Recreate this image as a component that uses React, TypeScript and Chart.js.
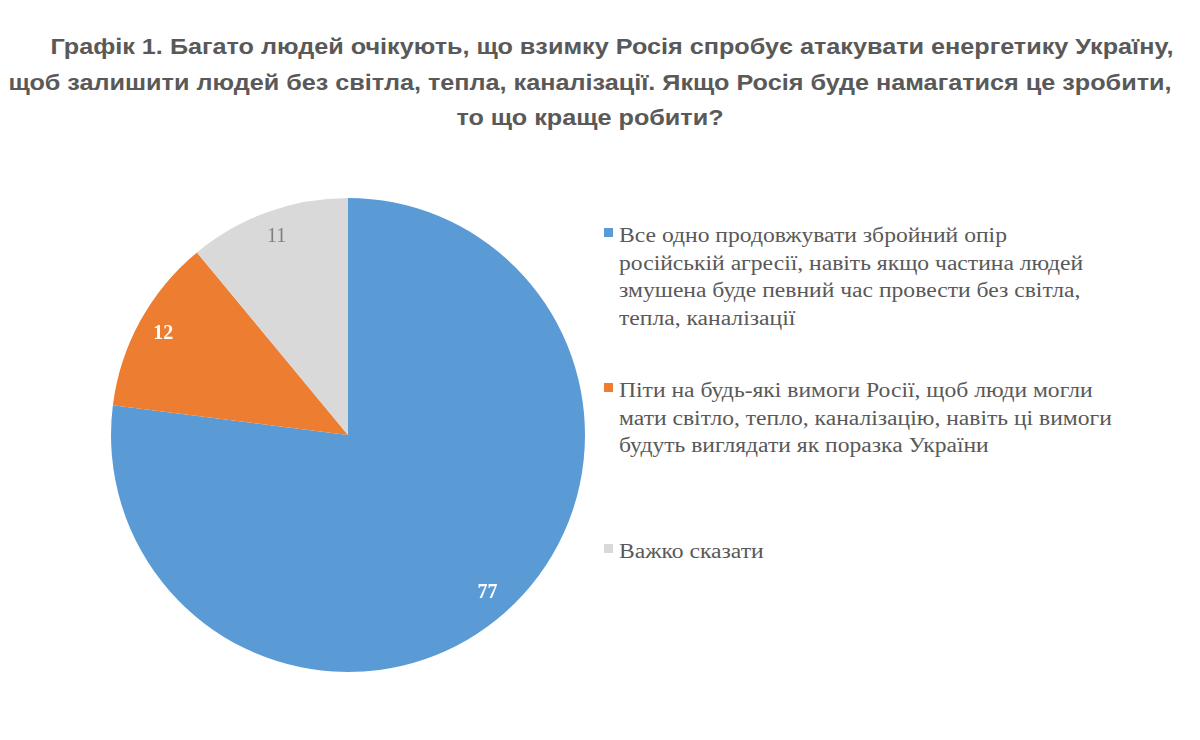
import React, { useEffect, useRef } from "react";
import { Chart, registerables } from "chart.js";

Chart.register(...registerables);

const titleLines = [
  "Графік 1. Багато людей очікують, що взимку Росія спробує атакувати енергетику Україну,",
  "щоб залишити людей без світла, тепла, каналізації. Якщо Росія буде намагатися це зробити,",
  "то що краще робити?",
];
const titleCenters = [612, 590, 590];
const categories = [
  "Все одно продовжувати збройний опір російській агресії, навіть якщо частина людей змушена буде певний час провести без світла, тепла, каналізації",
  "Піти на будь-які вимоги Росії, щоб люди могли мати світло, тепло, каналізацію, навіть ці вимоги будуть виглядати як поразка України",
  "Важко сказати",
];
const legendLines = [
  [
    "Все одно продовжувати збройний опір",
    "російській агресії, навіть якщо частина людей",
    "змушена буде певний час провести без світла,",
    "тепла, каналізації",
  ],
  [
    "Піти на будь-які вимоги Росії, щоб люди могли",
    "мати світло, тепло, каналізацію, навіть ці вимоги",
    "будуть виглядати як поразка України",
  ],
  ["Важко сказати"],
];
const values = [77, 12, 11];
const colors = ["#5B9BD5", "#ED7D31", "#D9D9D9"];
const labelColors = ["#FFFFFF", "#FFFFFF", "#7F7F7F"];
const labelBold = [true, true, false];
const legendTops = [222, 377, 538];

const labelPlugin = {
  id: "sliceLabels",
  afterDatasetsDraw(chart: any) {
    const ctx = chart.ctx;
    const meta = chart.getDatasetMeta(0);
    meta.data.forEach((arc: any, i: number) => {
      const p = arc.getProps(["x", "y", "startAngle", "endAngle", "outerRadius"], true);
      const mid = (p.startAngle + p.endAngle) / 2;
      const r = p.outerRadius * 0.89;
      const x = p.x + Math.cos(mid) * r;
      const y = p.y + Math.sin(mid) * r;
      ctx.save();
      ctx.font = `${labelBold[i] ? "bold " : ""}20px "Liberation Serif"`;
      ctx.fillStyle = labelColors[i];
      ctx.textAlign = "center";
      ctx.textBaseline = "middle";
      ctx.fillText(String(chart.data.datasets[0].data[i]), x, y);
      ctx.restore();
    });
  },
};

export default function App() {
  const ref = useRef<HTMLCanvasElement>(null);
  useEffect(() => {
    if (!ref.current) return;
    const chart = new Chart(ref.current, {
      type: "pie",
      data: {
        labels: categories,
        datasets: [
          {
            data: values,
            backgroundColor: colors,
            borderWidth: 0,
          },
        ],
      },
      options: {
        responsive: false,
        animation: false,
        devicePixelRatio: 1,
        layout: { padding: 3 },
        plugins: {
          legend: { display: false },
          tooltip: { enabled: false },
          title: { display: false },
        },
      },
      plugins: [labelPlugin],
    });
    return () => chart.destroy();
  }, []);

  return (
    <div
      style={{
        position: "absolute",
        left: 0,
        top: 0,
        width: 1200,
        height: 740,
        background: "#fff",
        overflow: "hidden",
      }}
    >
      {titleLines.map((l, i) => (
        <div
          key={i}
          style={{
            position: "absolute",
            left: titleCenters[i] - 600,
            top: 29 + i * 35.5,
            width: 1200,
            textAlign: "center",
            font: 'bold 22px "Liberation Sans", Arial, sans-serif',
            lineHeight: "35.5px",
            color: "#595959",
            whiteSpace: "nowrap",
            transform: "scaleX(1.146)",
            transformOrigin: "center",
          }}
        >
          {l}
        </div>
      ))}
      <canvas
        ref={ref}
        width={480}
        height={480}
        style={{ position: "absolute", left: 108, top: 195, width: 480, height: 480 }}
      />
      {legendLines.map((lines, i) => (
        <React.Fragment key={i}>
          <span
            style={{
              position: "absolute",
              left: 604,
              top: legendTops[i] + 6,
              width: 9,
              height: 9,
              background: colors[i],
            }}
          />
          <div
            style={{
              position: "absolute",
              left: 619,
              top: legendTops[i],
              font: '20px "Liberation Serif", serif',
              lineHeight: "27.5px",
              color: "#595959",
              whiteSpace: "nowrap",
              transform: "scaleX(1.18)",
              transformOrigin: "left center",
            }}
          >
            {lines.map((l, j) => (
              <div key={j}>{l}</div>
            ))}
          </div>
        </React.Fragment>
      ))}
    </div>
  );
}
